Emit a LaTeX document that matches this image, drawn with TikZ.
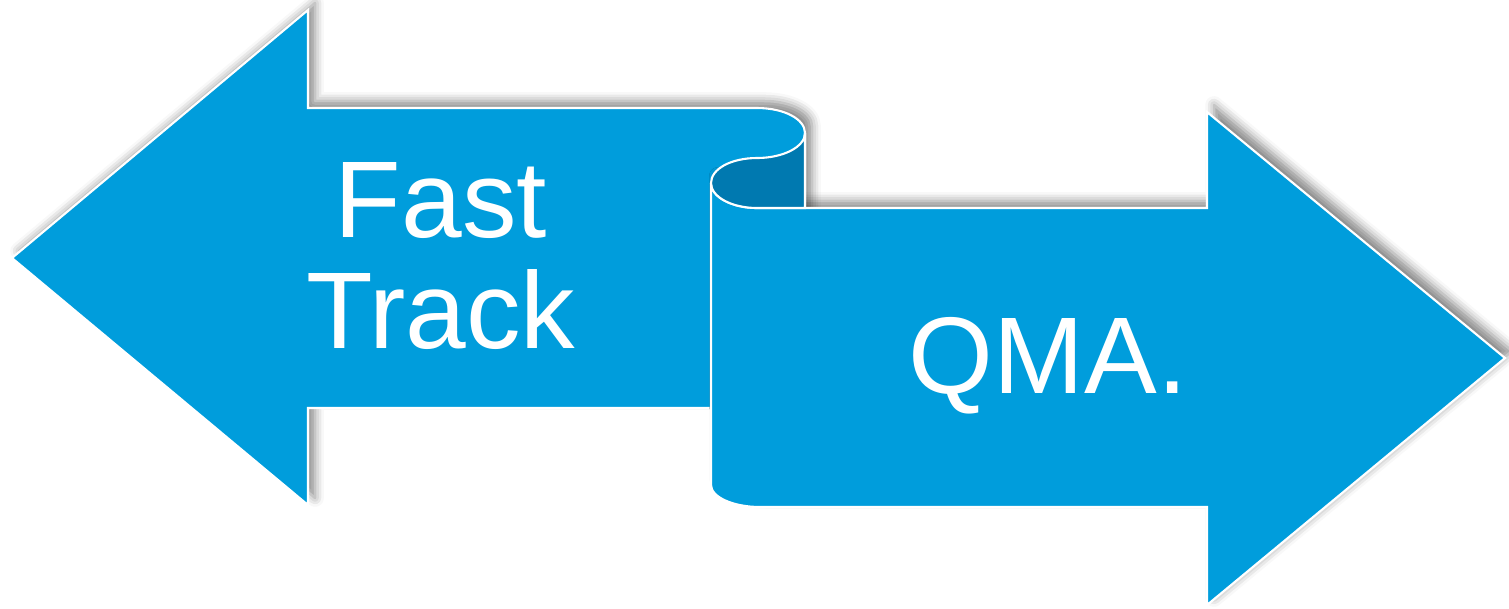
\documentclass[tikz,border=0pt]{standalone}
\usepackage{fontspec}
\setmainfont{Liberation Sans}
\usetikzlibrary{shadows.blur}
\definecolor{ribbon}{RGB}{0,157,220}
\definecolor{ribbondark}{RGB}{0,121,176}
\begin{document}
\begin{tikzpicture}[x=0.01cm,y=-0.01cm,
 band/.style={fill=ribbon,draw=white,line width=0.6pt,
   blur shadow={shadow xshift=2pt,shadow yshift=2pt,shadow blur radius=2.5pt,shadow opacity=45}},
 fold/.style={fill=ribbondark,draw=white,line width=0.6pt},
 lbl/.style={text=white,font=\fontsize{31}{31.3}\selectfont,align=center}]
\useasboundingbox (0,0) rectangle (1509,608);
% left arrow
\draw[band] (12,258) -- (308,10) -- (308,108) -- (757,108)
  .. controls (784,108) and (805,119) .. (805,133) -- (805,408)
  -- (308,408) -- (308,505) -- cycle;
% right arrow
\draw[band] (711,183) .. controls (711,197) and (732,208) .. (757,208)
  -- (1207,208) -- (1207,112) -- (1505,358) -- (1207,605) -- (1207,507)
  -- (760,507) .. controls (733,507) and (711,497) .. (711,485) -- cycle;
% inside of the curl
\draw[fold] (805,133) .. controls (805,147) and (783,158) .. (757,158)
  .. controls (731,158) and (711,169) .. (711,183)
  .. controls (711,197) and (732,208) .. (757,208) -- (805,208) -- cycle;
\node[lbl] (fast) at (441,256) {Fast\\Track};
\node[lbl,anchor=base] (qma) at (1048,393) {QMA.};
\end{tikzpicture}
\end{document}
